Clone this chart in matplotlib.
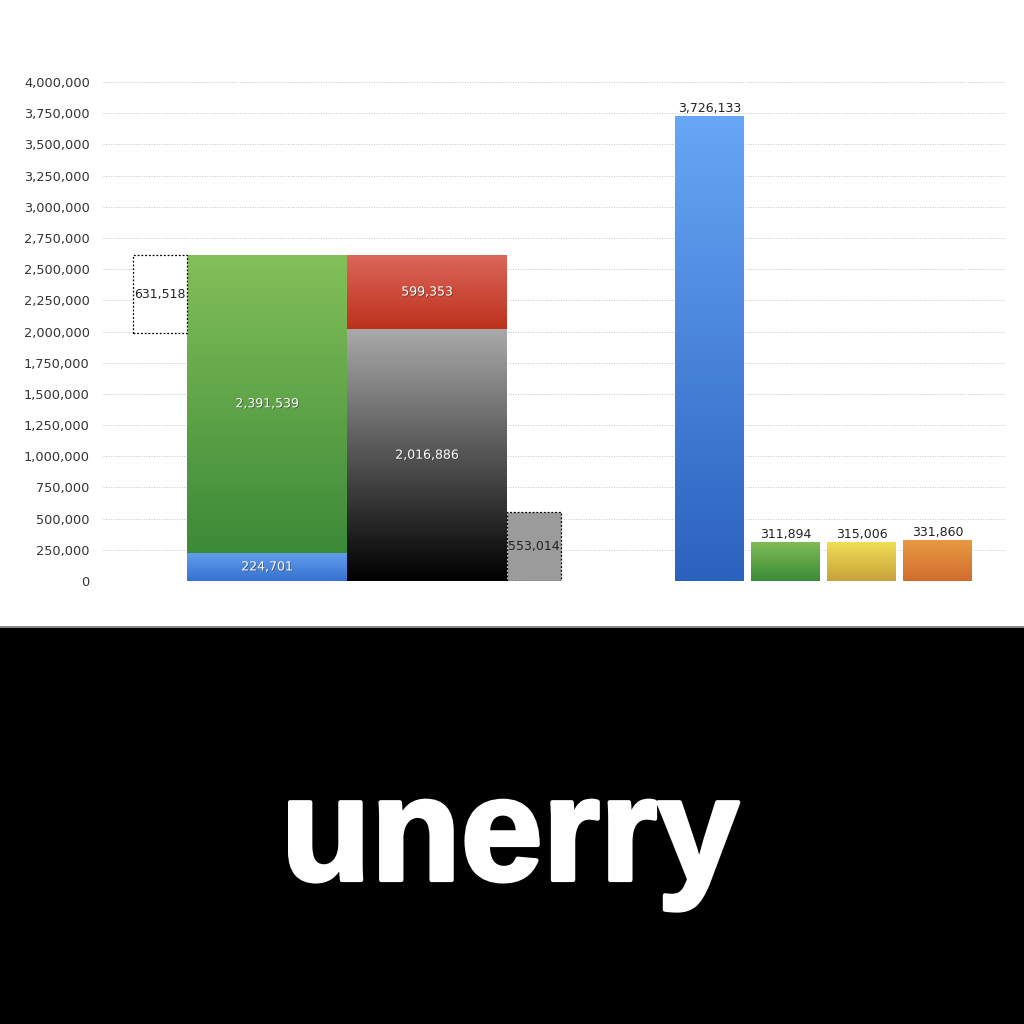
import matplotlib.pyplot as plt
import matplotlib.patheffects as pe
import numpy as np
from matplotlib.colors import LinearSegmentedColormap
from matplotlib.patches import Rectangle

# values
left_bottom = [224701, 2391539]          # blue + green stack
mid_stack = [2016886, 599353]            # gray/black + red stack
left_box = 631518
right_box = 553014
right_values = [3726133, 311894, 315006, 331860]

y_ticks = list(range(0, 4000001, 250000))

# gradient colours (top, bottom)
c_blue_small = ("#62a0ee", "#3670d0")
c_green_big = ("#84c05a", "#3b8a37")
c_red = ("#dc675c", "#bd311b")
c_black = ("#a9a9a9", "#000000")
right_colors = [("#67a7f6", "#2b62bf"), ("#80bc56", "#3a8b37"),
                ("#f1df56", "#c7a23a"), ("#e89a42", "#d26c2e")]

W, H = 1024, 1024
fig = plt.figure(figsize=(W / 100, H / 100), dpi=100)
fig.patch.set_facecolor("white")

ax_l, ax_r, ax_b, ax_t = 103, 1005, 581, 82
ax = fig.add_axes([ax_l / W, (H - ax_b) / H, (ax_r - ax_l) / W, (ax_b - ax_t) / H])
ax.set_xlim(0, ax_r - ax_l)
ax.set_ylim(0, 4000000)


def grad_bar(x, bottom, width, height, colors, z=3):
    bar = ax.bar(x, height, width=width, bottom=bottom, align="edge",
                 color="none", edgecolor="none", zorder=z)[0]
    cmap = LinearSegmentedColormap.from_list("g", [colors[1], colors[0]])
    grad = np.linspace(0, 1, 256).reshape(-1, 1)
    img = ax.imshow(grad, extent=[x, x + width, bottom, bottom + height],
                    origin="lower", aspect="auto", cmap=cmap, zorder=z)
    img.set_clip_path(bar)
    return bar


def label(x, y, s, color="white", shadow=True, size=9.0):
    kw = {}
    if shadow:
        kw["path_effects"] = [pe.withSimplePatchShadow(offset=(0.6, -0.6), shadow_rgbFace="#333333", alpha=0.6)]
    ax.text(x, y, s, ha="center", va="center", color=color, fontsize=size, zorder=6, **kw)


wide, narrow, rw, rgap = 160, 54, 69, 7
x_left_box = 30
x_green = x_left_box + narrow
x_mid = x_green + wide
x_right_box = x_mid + wide
x_right0 = 572

# left group
grad_bar(x_green, 0, wide, left_bottom[0], c_blue_small)
grad_bar(x_green, left_bottom[0], wide, left_bottom[1], c_green_big)
label(x_green + wide / 2, left_bottom[0] / 2, f"{left_bottom[0]:,}")
label(x_green + wide / 2, left_bottom[0] + left_bottom[1] / 2, f"{left_bottom[1]:,}")

grad_bar(x_mid, 0, wide, mid_stack[0], c_black)
grad_bar(x_mid, mid_stack[0], wide, mid_stack[1], c_red)
label(x_mid + wide / 2, mid_stack[0] / 2, f"{mid_stack[0]:,}")
label(x_mid + wide / 2, mid_stack[0] + mid_stack[1] / 2, f"{mid_stack[1]:,}")

total_left = sum(left_bottom)
ax.bar(x_left_box, left_box, width=narrow, bottom=total_left - left_box, align="edge",
       color="white", edgecolor="black", linestyle=(0, (1.5, 1.5)), linewidth=0.9, zorder=3)
label(x_left_box + narrow / 2, total_left - left_box / 2, f"{left_box:,}", color="#222222", shadow=False)

ax.bar(x_right_box, right_box, width=narrow, bottom=0, align="edge",
       color="#9b9b9b", edgecolor="black", linestyle=(0, (1.5, 1.5)), linewidth=0.9, zorder=3)
label(x_right_box + narrow / 2, right_box / 2, f"{right_box:,}", color="#222222", shadow=False)

# right group
for i, (v, c) in enumerate(zip(right_values, right_colors)):
    x = x_right0 + i * (rw + rgap)
    grad_bar(x, 0, rw, v, c)
    ax.text(x + rw / 2, v + 6000, f"{v:,}", ha="center", va="bottom",
            color="#222222", fontsize=9.0, zorder=6)

ax.set_xlim(0, ax_r - ax_l)
ax.set_ylim(0, 4000000)
ax.set_yticks(y_ticks)
ax.set_yticklabels([f"{t:,}" for t in y_ticks])
ax.tick_params(axis="y", length=0, pad=9.5, labelsize=9.3, labelcolor="#333333")
ax.set_xticks([])
ax.grid(axis="y", color="#c8c8c8", linestyle=(0, (1, 1.6)), linewidth=0.7, zorder=0)
ax.set_axisbelow(True)
for s in ax.spines.values():
    s.set_visible(False)
ax.patch.set_alpha(0)

# bottom band with logo
fig.patches.append(Rectangle((0, 0), 1, (H - 628) / H, transform=fig.transFigure,
                             facecolor="black", edgecolor="none", zorder=0))
fig.patches.append(Rectangle((0, (H - 628) / H), 1, 2.5 / H, transform=fig.transFigure,
                             facecolor="#8a8a8a", edgecolor="none", zorder=0))
fig.text(510 / W, (H - 880) / H, "unerry", ha="center", va="baseline", color="white",
         fontsize=106, fontweight="bold", family="Liberation Sans",
         path_effects=[pe.withStroke(linewidth=3, foreground="white")])

fig.savefig("out.png", dpi=100, facecolor="white")
